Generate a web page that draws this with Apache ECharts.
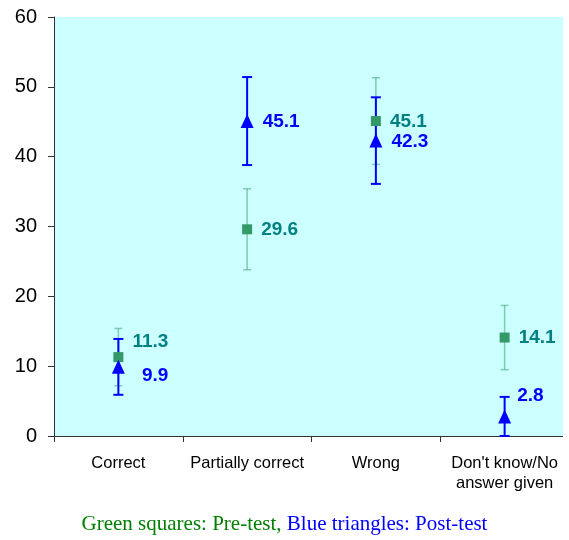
<!DOCTYPE html>
<html>
<head>
<meta charset="utf-8">
<script src="https://cdn.jsdelivr.net/npm/echarts@6/dist/echarts.min.js"></script>
<style>
  html, body { margin: 0; padding: 0; background: #ffffff; }
  #chart { width: 569px; height: 540px; }
</style>
</head>
<body>
<div id="chart"></div>
<script>
// Response categories
const categories = ['Correct', 'Partially correct', 'Wrong', "Don't know/No\nanswer given"];

// Pre-test (green squares): mean and error half-width
const preValues = [11.3, 29.6, 45.1, 14.1];
const preErrors = [4.1, 5.8, 6.2, 4.6];

// Post-test (blue triangles): mean and error half-width
const postValues = [9.9, 45.1, 42.3, 2.8];
const postErrors = [4.0, 6.3, 6.2, 2.8];

const yTicks = { min: 0, max: 60, interval: 10 };

const GREEN = '#339966';
const GREEN_BAR = 'rgba(51,153,102,0.5)';
const TEAL = '#008080';
const BLUE = '#0000ff';
const SANS = 'Liberation Sans, Arial, sans-serif';
const SERIF = 'Liberation Serif, Times New Roman, serif';

// Label offsets keep the two series' value labels apart
const preLabelOffsets = [[0, -15], [0, 0], [0, 1], [0, 0]];
const postLabelOffsets = [[8, 9], [0, 1], [0, 1], [-3, -21]];

function errorBarSeries(values, errors, color, width, cap) {
  return {
    type: 'custom',
    silent: true,
    z: 2,
    data: values.map((v, i) => [i, v - errors[i], v + errors[i]]),
    renderItem: function (params, api) {
      const lo = api.coord([api.value(0), api.value(1)]);
      const hi = api.coord([api.value(0), api.value(2)]);
      const x = lo[0];
      const style = { stroke: color, lineWidth: width };
      return {
        type: 'group',
        children: [
          { type: 'line', shape: { x1: x, y1: lo[1], x2: x, y2: hi[1] }, style: style },
          { type: 'line', shape: { x1: x - cap, y1: lo[1], x2: x + cap, y2: lo[1] }, style: style },
          { type: 'line', shape: { x1: x - cap, y1: hi[1], x2: x + cap, y2: hi[1] }, style: style }
        ]
      };
    }
  };
}

function pointSeries(name, values, offsets, symbol, size, color, labelColor) {
  return {
    name: name,
    type: 'scatter',
    z: 3,
    symbol: symbol,
    symbolSize: size,
    itemStyle: { color: color, opacity: 1 },
    data: values.map((v, i) => ({
      value: [i, v],
      label: { offset: offsets[i] }
    })),
    label: {
      show: true,
      position: 'right',
      distance: 9,
      color: labelColor,
      fontFamily: SANS,
      fontSize: 19,
      fontWeight: 'bold',
      formatter: p => p.value[1].toFixed(1)
    }
  };
}

const chart = echarts.init(document.getElementById('chart'), null, { renderer: 'canvas' });

chart.setOption({
  animation: false,
  backgroundColor: '#ffffff',
  grid: {
    left: 54, right: 0, top: 17, bottom: 104,
    show: true, backgroundColor: '#ccffff', borderWidth: 0
  },
  xAxis: {
    type: 'category',
    data: categories,
    boundaryGap: true,
    axisLine: { lineStyle: { color: '#333333', width: 1 } },
    axisTick: { show: true, alignWithLabel: false, length: 6, lineStyle: { color: '#333333' } },
    axisLabel: {
      color: '#000000', fontSize: 16.5, margin: 17, lineHeight: 20,
      fontFamily: SANS, interval: 0
    },
    splitLine: { show: false }
  },
  yAxis: {
    type: 'value',
    min: yTicks.min, max: yTicks.max, interval: yTicks.interval,
    axisLine: { show: true, lineStyle: { color: '#333333', width: 1 } },
    axisTick: { show: true, length: 6, lineStyle: { color: '#333333' } },
    axisLabel: {
      color: '#000000', fontSize: 20, margin: 17,
      fontFamily: SANS
    },
    splitLine: { show: false }
  },
  graphic: [
    // trims the shaded plot area and axis line at the right edge
    { type: 'rect', right: 0, top: 0, shape: { width: 6, height: 440 }, style: { fill: '#ffffff' }, z: 100 },
    {
      type: 'text', left: 'center', top: 514, z: 10,
      style: {
        rich: {
          g: { fill: '#008000', fontSize: 21, fontFamily: SERIF },
          b: { fill: '#0000ff', fontSize: 21, fontFamily: SERIF }
        },
        text: '{g|Green squares: Pre-test, }{b|Blue triangles: Post-test}'
      }
    }
  ],
  series: [
    errorBarSeries(preValues, preErrors, GREEN_BAR, 1.5, 4),
    errorBarSeries(postValues, postErrors, BLUE, 2, 5),
    pointSeries('Pre-test', preValues, preLabelOffsets, 'rect', 10, GREEN, TEAL),
    pointSeries('Post-test', postValues, postLabelOffsets, 'triangle', [13, 14], BLUE, BLUE)
  ]
});
</script>
</body>
</html>
